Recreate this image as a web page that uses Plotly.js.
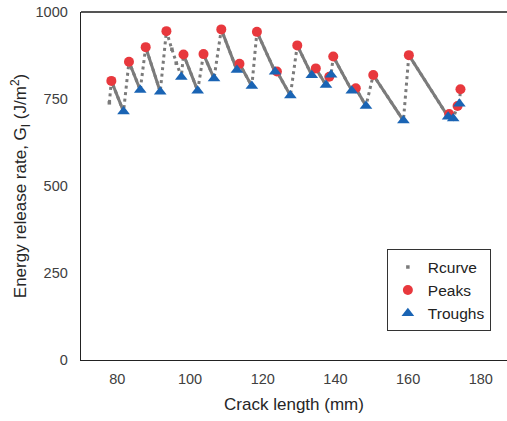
<!DOCTYPE html>
<html>
<head>
<meta charset="utf-8">
<script src="https://cdn.plot.ly/plotly-3.0.1.min.js"></script>
<style>
html,body{margin:0;padding:0;background:#fff;}
#chart{width:507px;height:421px;}
</style>
</head>
<body>
<div id="chart"></div>
<script>
// R-curve path (crack length mm, G_I J/m^2)
const rcurveX = [77.8, 78.35, 81.7, 83.2, 86.3, 87.8, 91.8, 93.5, 95.0, 96.2, 97.6, 98.2, 102.1, 103.7, 106.6, 108.6, 112.9, 113.6, 117.0, 118.4, 123.4, 123.9, 127.6, 129.5, 133.5, 134.6, 137.4, 138.3, 138.8, 139.4, 144.5, 145.6, 148.4, 150.4, 158.7, 160.2, 171.0, 171.3, 172.4, 173.6, 174.1, 174.4];
const rcurveY = [739, 802, 714, 857, 776, 899, 771, 945, 893, 853, 813, 878, 774, 879, 809, 950, 833, 851, 787, 943, 828, 829, 760, 904, 818, 838, 790, 814, 820, 872, 774, 781, 730, 819, 688, 876, 699, 707, 694, 730, 736, 778];

// Peaks
const peaksX = [78.35, 83.2, 87.8, 93.5, 98.2, 103.7, 108.6, 113.6, 118.4, 123.9, 129.5, 134.6, 138.3, 139.4, 145.6, 150.4, 160.2, 171.3, 173.6, 174.4];
const peaksY = [802, 857, 899, 945, 878, 879, 950, 851, 943, 829, 904, 838, 814, 872, 781, 819, 876, 707, 730, 778];

// Troughs
const troughsX = [81.7, 86.3, 91.8, 97.6, 102.1, 106.6, 112.9, 117.0, 123.4, 127.6, 133.5, 137.4, 138.8, 144.5, 148.4, 158.7, 171.0, 172.4, 174.1];
const troughsY = [714, 776, 771, 813, 774, 809, 833, 787, 828, 760, 818, 790, 820, 774, 730, 688, 699, 694, 736];

const xTickVals = [80, 100, 120, 140, 160, 180];
const yTickVals = [0, 250, 500, 750, 1000];

// Build solid (dense) segments: each peak directly followed by a trough on the R-curve
const peakKey = new Set(peaksX.map((x, i) => x + '|' + peaksY[i]));
const troughKey = new Set(troughsX.map((x, i) => x + '|' + troughsY[i]));
const solidX = [], solidY = [];
for (let i = 0; i < rcurveX.length - 1; i++) {
  const a = rcurveX[i] + '|' + rcurveY[i];
  const b = rcurveX[i + 1] + '|' + rcurveY[i + 1];
  if (peakKey.has(a) && troughKey.has(b)) {
    solidX.push(rcurveX[i], rcurveX[i + 1], null);
    solidY.push(rcurveY[i], rcurveY[i + 1], null);
  }
}

const gray = '#7b7b7b';
const FONT = 'Arial, "Liberation Sans", sans-serif';

const traces = [
  {x: rcurveX, y: rcurveY, mode: 'lines', showlegend: false, hoverinfo: 'skip',
   line: {color: gray, width: 3, dash: '3px,3.5px'}},
  {x: solidX, y: solidY, mode: 'lines', showlegend: false, hoverinfo: 'skip', connectgaps: false,
   line: {color: gray, width: 3}},
  {x: rcurveX, y: rcurveY, mode: 'markers', name: 'Rcurve',
   marker: {symbol: 'square', size: 3.5, color: gray}},
  {x: peaksX, y: peaksY, mode: 'markers', name: 'Peaks',
   marker: {symbol: 'circle', size: 10, color: '#e8383d', line: {width: 0}}},
  {x: troughsX, y: troughsY, mode: 'markers', name: 'Troughs',
   marker: {symbol: 'triangle-up', size: 11, color: '#1a64b4', line: {width: 0}}}
];

const layout = {
  width: 507, height: 421,
  margin: {l: 81, r: 0, t: 12, b: 61, pad: 0},
  paper_bgcolor: '#ffffff', plot_bgcolor: '#ffffff',
  font: {family: FONT, color: '#404040', size: 14.5},
  showlegend: true,
  legend: {
    x: 0.718, y: 0.318, xanchor: 'left', yanchor: 'top',
    bgcolor: '#ffffff', bordercolor: '#333333', borderwidth: 1,
    font: {family: FONT, size: 15.5, color: '#222222'},
    tracegroupgap: 0
  },
  xaxis: {
    range: [70, 187.2],
    tickvals: xTickVals, ticktext: xTickVals.map(String),
    ticks: '', showgrid: false, zeroline: false,
    showline: true, linecolor: '#222222', linewidth: 1.3,
    ticklabelstandoff: 5,
    tickfont: {family: FONT, size: 14.5, color: '#404040'},
    title: {text: 'Crack length (mm)', font: {family: FONT, size: 17, color: '#262626'}, standoff: 12}
  },
  yaxis: {
    range: [0, 1000],
    tickvals: yTickVals, ticktext: yTickVals.map(String),
    ticks: '', showgrid: false, zeroline: false,
    showline: true, linecolor: '#222222', linewidth: 1.3,
    ticklabelstandoff: 9,
    tickfont: {family: FONT, size: 14.5, color: '#404040'},
    title: {text: 'Energy release rate, G<sub>I</sub> (J/m<sup>2</sup>)', font: {family: FONT, size: 17, color: '#262626'}, standoff: 4}
  },
  shapes: [
    {type: 'line', xref: 'paper', yref: 'paper', x0: 0, x1: 1, y0: 1, y1: 1,
     line: {color: '#555555', width: 2}}
  ]
};

Plotly.newPlot('chart', traces, layout, {displayModeBar: false, staticPlot: true});
</script>
</body>
</html>
